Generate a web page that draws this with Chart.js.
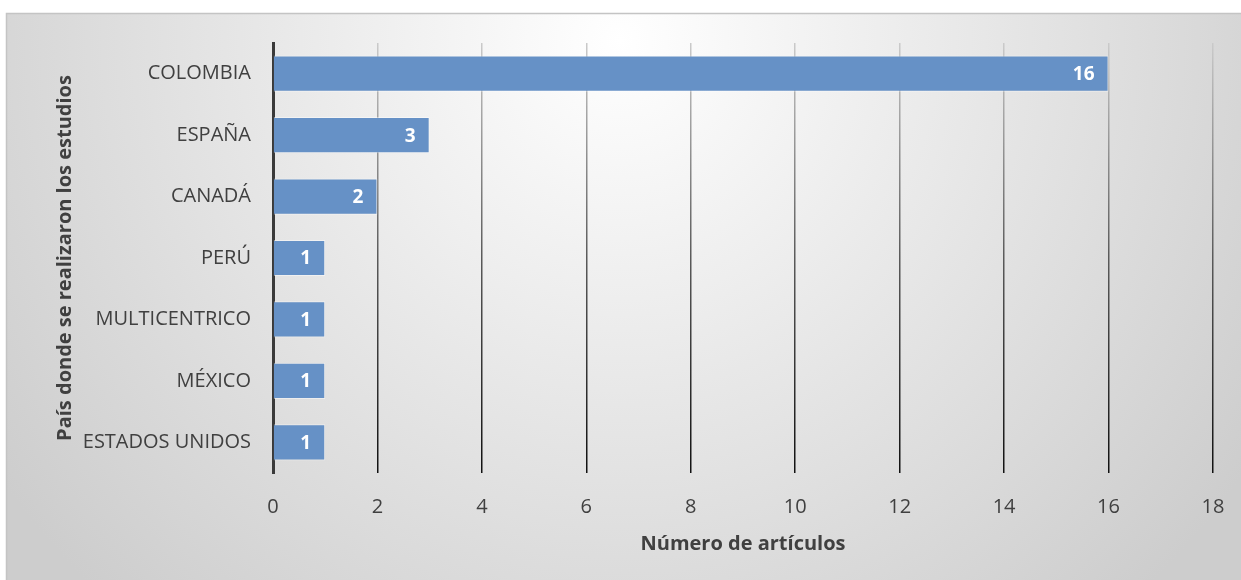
<!DOCTYPE html>
<html>
<head>
<meta charset="utf-8">
<script src="https://cdn.jsdelivr.net/npm/chart.js@4.4.0/dist/chart.umd.min.js"></script>
<style>
  body { margin: 0; background: #fff; }
  #wrap { width: 1241px; height: 580px; }
</style>
</head>
<body>
<div id="wrap"><canvas id="grafico" width="1241" height="580"></canvas></div>
<script>
// datos del grafico
var paises = ['COLOMBIA', 'ESPAÑA', 'CANADÁ', 'PERÚ', 'MULTICENTRICO', 'MÉXICO', 'ESTADOS UNIDOS'];
var articulos = [16, 3, 2, 1, 1, 1, 1];
var tituloX = 'Número de artículos';
var tituloY = 'País donde se realizaron los estudios';
var ejeMin = 0, ejeMax = 18, paso = 2;

var fuente = "'Open Sans', sans-serif";

// fondo con degradado radial y borde
var fondo = {
	id: 'fondo',
	beforeDraw: function(chart) {
		var c = chart.ctx;
		c.save();
		c.fillStyle = '#ffffff';
		c.fillRect(0, 0, chart.width, chart.height);
		var g = c.createRadialGradient(620, 40, 0, 620, 40, 760);
		g.addColorStop(0, '#ffffff');
		g.addColorStop(1, '#cdcdcd');
		c.fillStyle = g;
		c.fillRect(6, 13, chart.width, chart.height);
		c.strokeStyle = '#c4c4c4';
		c.lineWidth = 1.5;
		c.strokeRect(6.5, 13.5, chart.width + 10, chart.height + 10);
		c.restore();
	}
};

// etiquetas dentro de las barras
var etiquetas = {
	id: 'etiquetas',
	afterDatasetsDraw: function(chart) {
		var c = chart.ctx;
		var meta = chart.getDatasetMeta(0);
		c.save();
		c.fillStyle = '#ffffff';
		c.font = 'bold 19px ' + fuente;
		c.textAlign = 'right';
		c.textBaseline = 'middle';
		meta.data.forEach(function(bar, i) {
			c.fillText(String(articulos[i]), bar.x - 14, bar.y + 1);
		});
		c.restore();
	}
};

var ctx = document.getElementById('grafico');

var grafico = new Chart(ctx, {
	type: 'bar',
	data: {
		labels: paises,
		datasets: [{
			label: tituloX,
			data: articulos,
			backgroundColor: '#6691c6',
			borderColor: 'rgba(255,255,255,0.45)',
			borderWidth: 1,
			borderSkipped: 'start',
			barPercentage: 0.59,
			categoryPercentage: 1
		}]
	},
	options: {
		indexAxis: 'y',
		responsive: false,
		animation: false,
		layout: { padding: { left: 0, top: 43, right: 28, bottom: 0 } },
		plugins: {
			legend: { display: false },
			tooltip: { enabled: false }
		},
		scales: {
			x: {
				min: ejeMin,
				max: ejeMax,
				ticks: {
					stepSize: paso,
					color: '#404040',
					padding: 22,
					font: { family: fuente, size: 20 }
				},
				grid: {
					drawTicks: false,
					lineWidth: 1.5,
					color: function(context) {
						var ca = context.chart.chartArea;
						if (!ca) return '#888';
						var g = context.chart.ctx.createLinearGradient(0, ca.top, 0, ca.bottom);
						g.addColorStop(0, '#cacaca');
						g.addColorStop(0.5, '#5a5a5a');
						g.addColorStop(1, '#111111');
						return g;
					}
				},
				border: { display: false },
				title: {
					display: true,
					text: tituloX,
					color: '#404040',
					font: { family: fuente, size: 20, weight: 'bold' },
					padding: { top: 0, bottom: 24 }
				},
				afterFit: function(scale) {
					scale.height = 107;
					scale.paddingRight = 0;
					scale.paddingLeft = 0;
				}
			},
			y: {
				ticks: {
					color: '#404040',
					padding: 22,
					font: { family: fuente, size: 20 }
				},
				grid: { display: false, drawTicks: false },
				border: { display: true, color: '#3a3a3a', width: 3 },
				title: {
					display: true,
					text: tituloY,
					color: '#404040',
					font: { family: fuente, size: 20, weight: 'bold' },
					padding: { top: 53, bottom: 0 }
				},
				afterFit: function(scale) { scale.width = 273; }
			}
		}
	},
	plugins: [fondo, etiquetas]
});
</script>
</body>
</html>
